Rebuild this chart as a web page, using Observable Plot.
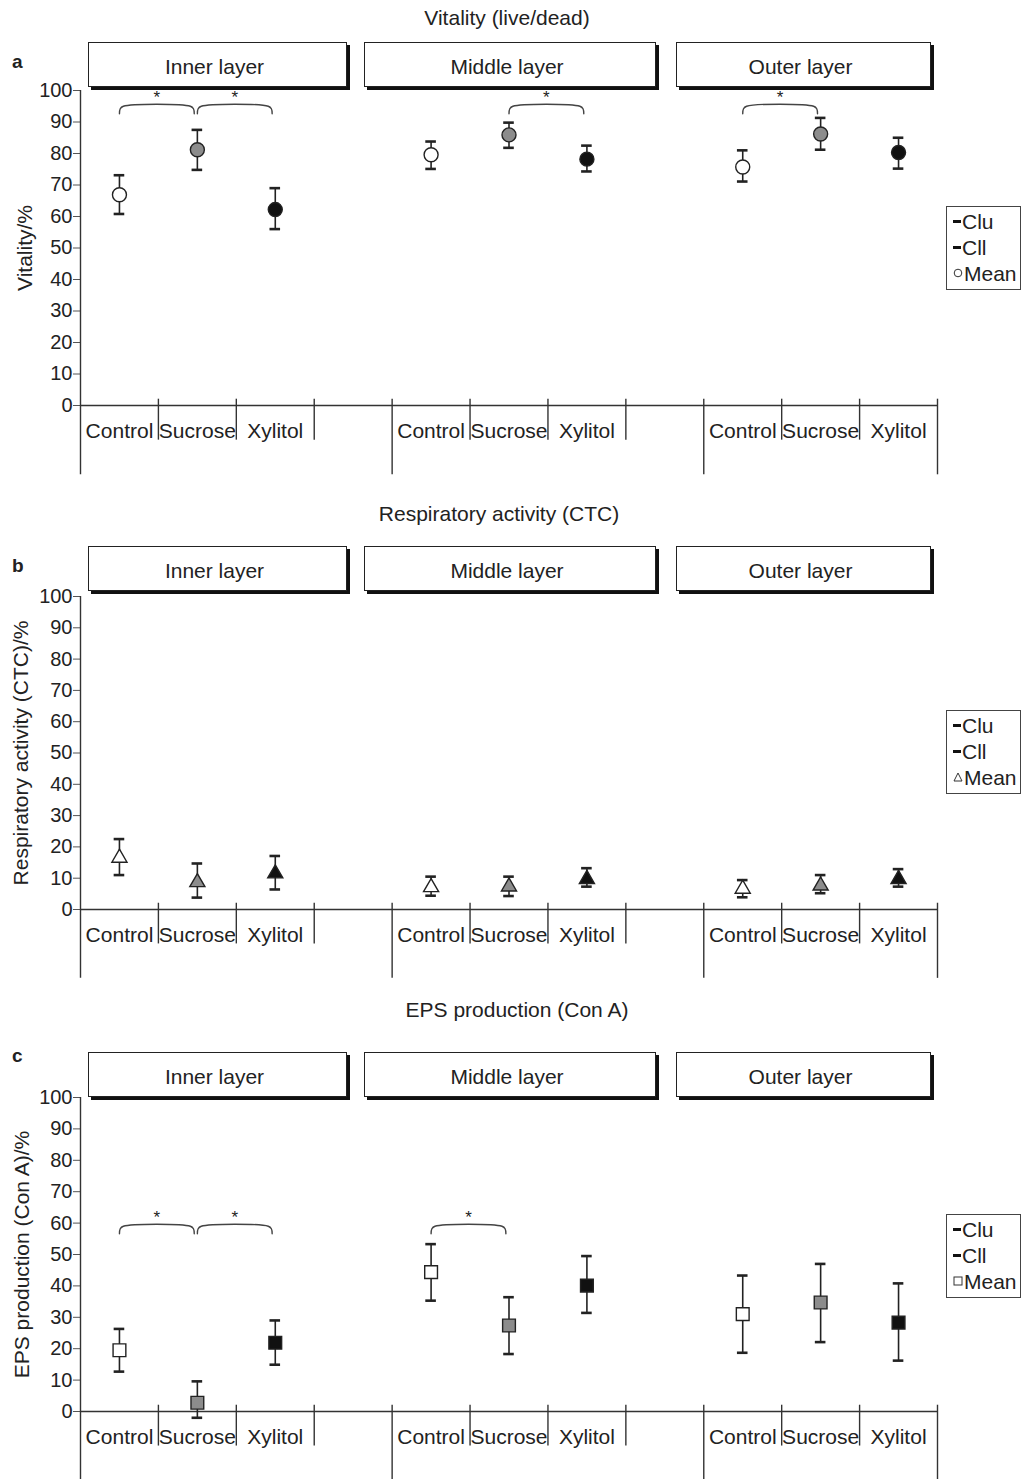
<!DOCTYPE html>
<html>
<head>
<meta charset="utf-8">
<script src="https://cdn.jsdelivr.net/npm/d3@7"></script>
<script src="https://cdn.jsdelivr.net/npm/@observablehq/plot@0.6"></script>
<style>
  body { margin: 0; background: #fff; font-family: "Liberation Sans", Arial, sans-serif; color: #222; }
  #root { position: relative; width: 1024px; height: 1479px; overflow: hidden; }
  .panel { position: absolute; left: 0; width: 1024px; }
  .ttl { position: absolute; font-size: 21px; white-space: nowrap; transform: translate(-50%, -50%); }
  .letter { position: absolute; font-size: 19px; font-weight: bold; transform: translateY(-50%); }
  .strip { position: absolute; height: 43px; border: 1.5px solid #222; box-shadow: 3px 3px 0 #111; background: #fff;
           display: flex; align-items: center; justify-content: center; font-size: 21px; box-sizing: content-box; }
  .strip span { position: relative; left: -3px; top: 2px; }
  .legend { position: absolute; left: 946px; width: 73px; border: 1.5px solid #444; background: #fff; padding: 2px 0 2px 0;
            font-size: 21px; line-height: 26px; }
  .legend div { padding-left: 6px; white-space: nowrap; }
  .dash { display: inline-block; width: 8px; height: 3px; background: #111; vertical-align: 6px; margin-right: 1px; }
  .legend svg { vertical-align: 3px; margin-right: 1px; }
</style>
</head>
<body>
<div id="root"></div>
<script>
// ---------- data ----------
const treatments = ["Control", "Sucrose", "Xylitol"];
const layers = ["Inner layer", "Middle layer", "Outer layer"];
const treatmentFill = ["#ffffff", "#8c8c8c", "#111111"];
const yTicks = [0, 10, 20, 30, 40, 50, 60, 70, 80, 90, 100];
const legendLabels = ["Clu", "Cll", "Mean"];

// order in each array: Inner (Control, Sucrose, Xylitol), Middle (...), Outer (...)
// a: Vitality (live/dead)
const vitalityMean = [66.9, 81.2, 62.2, 79.6, 85.9, 78.2, 75.7, 86.2, 80.3];
const vitalityCIl  = [60.8, 74.8, 56.0, 75.1, 81.8, 74.3, 71.1, 81.2, 75.2];
const vitalityCIu  = [73.1, 87.5, 69.0, 83.8, 89.8, 82.5, 81.0, 91.3, 85.0];
const vitalitySig  = [["Inner layer", "Control", "Sucrose"], ["Inner layer", "Sucrose", "Xylitol"],
                      ["Middle layer", "Sucrose", "Xylitol"], ["Outer layer", "Control", "Sucrose"]];

// b: Respiratory activity (CTC)
const ctcMean = [16.5, 8.7, 11.5, 7.1, 7.3, 9.7, 6.6, 7.6, 9.7];
const ctcCIl  = [11.0, 3.8, 6.4, 4.4, 4.3, 7.3, 3.9, 5.2, 7.3];
const ctcCIu  = [22.5, 14.7, 17.1, 10.5, 10.5, 13.2, 9.4, 11.0, 12.9];
const ctcSig  = [];

// c: EPS production (Con A)
const epsMean = [19.5, 2.8, 21.9, 44.4, 27.4, 40.1, 31.0, 34.7, 28.3];
const epsCIl  = [12.7, -2.0, 14.9, 35.3, 18.3, 31.4, 18.7, 22.1, 16.2];
const epsCIu  = [26.3, 9.6, 29.0, 53.3, 36.4, 49.5, 43.3, 47.0, 40.8];
const epsSig  = [["Inner layer", "Control", "Sucrose"], ["Inner layer", "Sucrose", "Xylitol"],
                 ["Middle layer", "Control", "Sucrose"]];

// ---------- layout ----------
const panels = [
  {id: "a", title: "Vitality (live/dead)", ylabel: "Vitality/%", top: 0, height: 496, mt: 90, mb: 91,
   mean: vitalityMean, lo: vitalityCIl, hi: vitalityCIu, sig: vitalitySig, sigLevel: 95,
   symbol: "circle", r: 7, titleX: 507, titleY: 18, letterY: 62, stripTop: 42, legendTop: 206, ylabelDx: -55,
   legendSym: "circle"},
  {id: "b", title: "Respiratory activity (CTC)", ylabel: "Respiratory activity (CTC)/%", top: 496, height: 496, mt: 100, mb: 83,
   mean: ctcMean, lo: ctcCIl, hi: ctcCIu, sig: ctcSig, sigLevel: 95,
   symbol: "triangle", r: 5.6, titleX: 499, titleY: 514, letterY: 566, stripTop: 546, legendTop: 710, ylabelDx: -59,
   legendSym: "triangle"},
  {id: "c", title: "EPS production (Con A)", ylabel: "EPS production (Con A)/%", top: 992, height: 487, mt: 105, mb: 68,
   mean: epsMean, lo: epsCIl, hi: epsCIu, sig: epsSig, sigLevel: 59,
   symbol: "square", r: 7.2, titleX: 517, titleY: 1010, letterY: 1056, stripTop: 1052, legendTop: 1214, ylabelDx: -58,
   legendSym: "square"}
];
const stripBoxes = [[88, 345], [364, 654], [676, 929]];
const slotsPerLayer = 4;

const root = document.getElementById("root");

function el(tag, cls, style, text) {
  const e = document.createElement(tag);
  if (cls) e.className = cls;
  Object.assign(e.style, style || {});
  if (text != null) e.textContent = text;
  root.appendChild(e);
  return e;
}

for (const p of panels) {
  const rows = [];
  layers.forEach((layer, li) => treatments.forEach((t, ti) => {
    const k = li * 3 + ti;
    rows.push({layer, treatment: t, ti, pos: li * slotsPerLayer + ti + 0.5, mean: p.mean[k], lo: p.lo[k], hi: p.hi[k]});
  }));
  const posOf = (layer, t) => layers.indexOf(layer) * slotsPerLayer + treatments.indexOf(t) + 0.5;
  const nSlots = layers.length * slotsPerLayer - 1;
  const dividers = d3.range(0, nSlots + 1).map(s => {
    const long = s % slotsPerLayer === 0 || s === nSlots;
    return {slot: s, top: s === 0 ? 100 : 2, bottom: long ? -22 : -11};
  });
  const brackets = p.sig.map(([layer, a, b], i) => {
    const x1 = posOf(layer, a) + 0.0, x2 = posOf(layer, b) - 0.04;
    return {id: i, x1, x2, mid: (x1 + x2) / 2, top: p.sigLevel};
  });
  const bracketPts = brackets.flatMap(b => [
    {id: b.id, x: b.x1, y: b.top - 2.4},
    {id: b.id, x: b.x1 + 0.01, y: b.top - 0.8},
    {id: b.id, x: b.x1 + 0.05, y: b.top},
    {id: b.id, x: b.x2 - 0.05, y: b.top},
    {id: b.id, x: b.x2 - 0.01, y: b.top - 0.8},
    {id: b.id, x: b.x2, y: b.top - 2.4}
  ]);
  const capHalf = 0.068;

  const chart = Plot.plot({
    width: 1024, height: p.height,
    marginTop: p.mt, marginBottom: p.mb, marginLeft: 80, marginRight: 87,
    x: {domain: [0, nSlots], axis: null},
    y: {domain: [0, 100]},
    color: {type: "identity"},
    style: {fontFamily: "'Liberation Sans', Arial, sans-serif", fontSize: "20px", color: "#222", background: "transparent", overflow: "visible"},
    marks: [
      Plot.axisY({ticks: yTicks, tickSize: 7, tickPadding: 1, fontSize: 20, label: null, stroke: "#555"}),
      Plot.ruleY([0], {x1: 0, x2: nSlots, stroke: "#333", strokeWidth: 1.5}),
      Plot.ruleX(dividers, {x: "slot", y1: "top", y2: "bottom", stroke: "#333", strokeWidth: 1.4}),
      Plot.text(rows, {x: "pos", y: 0, text: "treatment", dy: 26, fontSize: 21, fill: "#222"}),
      Plot.ruleX(rows, {x: "pos", y1: "lo", y2: "hi", stroke: "#222", strokeWidth: 1.6}),
      Plot.ruleY(rows, {y: "hi", x1: d => d.pos - capHalf, x2: d => d.pos + capHalf, stroke: "#222", strokeWidth: 2.6}),
      Plot.ruleY(rows, {y: "lo", x1: d => d.pos - capHalf, x2: d => d.pos + capHalf, stroke: "#222", strokeWidth: 2.6}),
      Plot.dot(rows, {x: "pos", y: "mean", symbol: p.symbol, r: p.r, fill: d => treatmentFill[d.ti], stroke: "#222", strokeWidth: 1.4}),
      Plot.line(bracketPts, {x: "x", y: "y", z: "id", curve: "catmull-rom", stroke: "#444", strokeWidth: 1.4}),
      Plot.text(brackets, {x: "mid", y: "top", text: () => "*", dy: -9, fontSize: 17, fill: "#222"}),
      Plot.text([p.ylabel], {frameAnchor: "left", textAnchor: "middle", lineAnchor: "middle", text: d => d, rotate: -90, dx: p.ylabelDx, fontSize: 21, fill: "#222"})
    ]
  });
  const holder = el("div", "panel", {top: p.top + "px", height: p.height + "px"});
  holder.appendChild(chart);

  el("div", "ttl", {left: p.titleX + "px", top: p.titleY + "px"}, p.title);
  el("div", "letter", {left: "12px", top: p.letterY + "px"}, p.id);
  layers.forEach((layer, i) => {
    const [x1, x2] = stripBoxes[i];
    const box = el("div", "strip", {left: x1 + "px", top: p.stripTop + "px", width: (x2 - x1) + "px"});
    const sp = document.createElement("span"); sp.textContent = layer; box.appendChild(sp);
  });

  const lg = el("div", "legend", {top: p.legendTop + "px"});
  legendLabels.forEach((lab, i) => {
    const row = document.createElement("div");
    if (i < 2) {
      const s = document.createElement("span"); s.className = "dash"; row.appendChild(s);
    } else {
      const ns = "http://www.w3.org/2000/svg";
      const svg = document.createElementNS(ns, "svg");
      svg.setAttribute("width", "10"); svg.setAttribute("height", "10");
      let shape;
      if (p.legendSym === "circle") { shape = document.createElementNS(ns, "circle"); shape.setAttribute("cx", 5); shape.setAttribute("cy", 5); shape.setAttribute("r", 3.8); }
      else if (p.legendSym === "triangle") { shape = document.createElementNS(ns, "path"); shape.setAttribute("d", "M5,1 L9,9 L1,9 Z"); }
      else { shape = document.createElementNS(ns, "rect"); shape.setAttribute("x", 1); shape.setAttribute("y", 1); shape.setAttribute("width", 8); shape.setAttribute("height", 8); }
      shape.setAttribute("fill", "#fff"); shape.setAttribute("stroke", "#333"); shape.setAttribute("stroke-width", "1");
      svg.appendChild(shape); row.appendChild(svg);
    }
    row.appendChild(document.createTextNode(lab));
    lg.appendChild(row);
  });
}
</script>
</body>
</html>
